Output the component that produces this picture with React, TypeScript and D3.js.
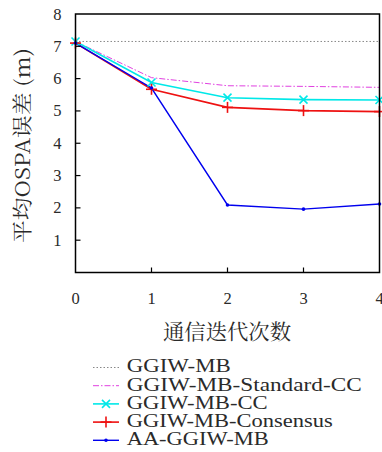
import React from "react";
import * as d3 from "d3";

const iterations = [0, 1, 2, 3, 4];
const ggiwMB = [7.15, 7.15, 7.15, 7.15, 7.15];
const standardCC = [7.15, 6.03, 5.78, 5.76, 5.73];
const ggiwCC = [7.15, 5.88, 5.41, 5.35, 5.34];
const consensus = [7.1, 5.67, 5.11, 5.01, 4.98];
const aaGGIW = [7.1, 5.71, 2.09, 1.96, 2.12];
const yTicks = [1, 2, 3, 4, 5, 6, 7, 8];
const xTicks = [0, 1, 2, 3, 4];
const seriesNames = [
  "GGIW-MB",
  "GGIW-MB-Standard-CC",
  "GGIW-MB-CC",
  "GGIW-MB-Consensus",
  "AA-GGIW-MB",
];
const legendWidths = [104, 235, 141, 206, 142];

const W = 382;
const H = 452;
const left = 75.5;
const right = 379.5;
const top = 14;
const bottom = 272.5;

const FONT = "'Liberation Serif', serif";
const CJK = "'Noto Serif CJK SC', 'Liberation Serif', serif";
const TEXT = "#2a2a2a";

type Series = {
  name: string;
  values: number[];
  color: string;
  dash?: string;
  width: number;
  marker: "none" | "x" | "plus" | "dot";
};

const series: Series[] = [
  { name: seriesNames[0], values: ggiwMB, color: "#888888", dash: "1.5,2", width: 1, marker: "none" },
  { name: seriesNames[1], values: standardCC, color: "#e040e0", dash: "6,2,1.5,2", width: 1, marker: "none" },
  { name: seriesNames[2], values: ggiwCC, color: "#00e8e8", width: 1.6, marker: "x" },
  { name: seriesNames[3], values: consensus, color: "#ee1111", width: 1.6, marker: "plus" },
  { name: seriesNames[4], values: aaGGIW, color: "#0000ee", width: 1.4, marker: "dot" },
];

function Marker({ kind, x, y, color }: { kind: string; x: number; y: number; color: string }) {
  const s = 4;
  if (kind === "x") {
    return (
      <g stroke={color} strokeWidth={1.6}>
        <line x1={x - s} y1={y - s} x2={x + s} y2={y + s} />
        <line x1={x - s} y1={y + s} x2={x + s} y2={y - s} />
      </g>
    );
  }
  if (kind === "plus") {
    return (
      <g stroke={color} strokeWidth={1.6}>
        <line x1={x - s - 1.5} y1={y} x2={x + s + 1.5} y2={y} />
        <line x1={x} y1={y - s - 1.5} x2={x} y2={y + s + 1.5} />
      </g>
    );
  }
  if (kind === "dot") {
    return <circle cx={x} cy={y} r={1.8} fill={color} />;
  }
  return null;
}

export default function App() {
  const x = d3.scaleLinear().domain([0, 4]).range([left, right]);
  const y = d3.scaleLinear().domain([0, 8]).range([bottom, top]);
  const line = d3
    .line<number>()
    .x((_, i) => x(iterations[i]))
    .y((d) => y(d));

  const legendY0 = 367.5;
  const legendDy = 18.2;

  return (
    <svg
      width={W}
      height={H}
      style={{ position: "absolute", left: 0, top: 0, background: "#fff" }}
    >
      <defs>
        <clipPath id="plotclip">
          <rect x={left} y={top} width={right - left} height={bottom - top} />
        </clipPath>
      </defs>
      <g clipPath="url(#plotclip)">
        {series.map((s) => (
          <path
            key={s.name}
            d={line(s.values) || ""}
            fill="none"
            stroke={s.color}
            strokeWidth={s.width}
            strokeDasharray={s.dash}
          />
        ))}
      </g>
      {series.map((s) =>
        s.values.map((v, i) => (
          <Marker key={s.name + i} kind={s.marker} x={x(iterations[i])} y={y(v)} color={s.color} />
        ))
      )}

      {/* frame */}
      <rect
        x={left}
        y={top}
        width={right - left}
        height={bottom - top}
        fill="none"
        stroke="#000"
        strokeWidth={1.5}
      />

      {/* y ticks */}
      {yTicks.map((t) => (
        <g key={"y" + t}>
          {t < 8 && <line x1={left} x2={left + 5} y1={y(t)} y2={y(t)} stroke="#000" strokeWidth={1.2} />}
          <text
            x={61.5}
            y={y(t) + 5.5}
            textAnchor="end"
            style={{ fontFamily: FONT }}
            fontSize={16.5}
            fill={TEXT}
          >
            {t}
          </text>
        </g>
      ))}
      {/* x ticks */}
      {xTicks.map((t) => (
        <g key={"x" + t}>
          {t > 0 && t < 4 && (
            <line x1={x(t)} x2={x(t)} y1={bottom} y2={bottom - 5} stroke="#000" strokeWidth={1.2} />
          )}
          <text
            x={x(t)}
            y={304}
            textAnchor="middle"
            style={{ fontFamily: FONT }}
            fontSize={16.5}
            fill={TEXT}
          >
            {t}
          </text>
        </g>
      ))}

      {/* axis titles */}
      <text
        x={227}
        y={332}
        dy="0.35em"
        textAnchor="middle"
        style={{ fontFamily: CJK }}
        fontSize={21}
        textLength={128}
        lengthAdjust="spacingAndGlyphs"
        fill={TEXT}
      >
        通信迭代次数
      </text>
      <text
        transform={`translate(23,145.5) rotate(-90)`}
        textAnchor="middle"
        dy="0.35em"
        fontSize={20.5}
        textLength={195}
        lengthAdjust="spacingAndGlyphs"
        style={{ fontFamily: CJK }}
        fill={TEXT}
      >
        平均OSPA误差 (m)
      </text>

      {/* legend */}
      {series.map((s, i) => {
        const ly = legendY0 + i * legendDy;
        return (
          <g key={"lg" + s.name}>
            <line
              x1={93}
              x2={119}
              y1={ly}
              y2={ly}
              stroke={s.color}
              strokeWidth={s.width}
              strokeDasharray={s.dash}
            />
            <Marker kind={s.marker} x={106} y={ly} color={s.color} />
            <text
              x={126.7}
              y={ly + 4.8}
              style={{ fontFamily: FONT }}
              fontSize={19.5}
              textLength={legendWidths[i]}
              lengthAdjust="spacingAndGlyphs"
              fill={TEXT}
            >
              {s.name}
            </text>
          </g>
        );
      })}
    </svg>
  );
}
